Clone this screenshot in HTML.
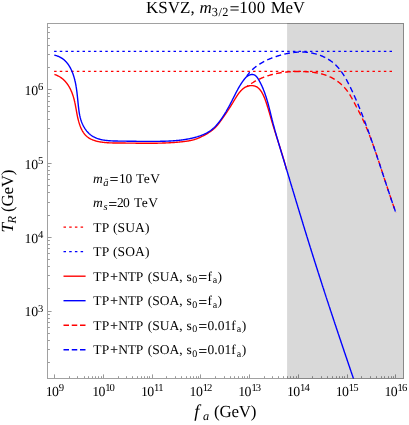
<!DOCTYPE html>
<html><head><meta charset="utf-8"><title>KSVZ plot</title>
<style>
html,body{margin:0;padding:0;background:#fff;}
svg{display:block;will-change:transform;}
text{font-family:"Liberation Serif",serif;fill:#000;white-space:pre;text-rendering:geometricPrecision;}
.eq{stroke:#000;stroke-width:0.2px;}
</style></head>
<body>
<svg width="409" height="425" viewBox="0 0 409 425">
<rect width="409" height="425" fill="#ffffff"/>
<rect x="287.1" y="23.0" width="116.90" height="356.0" fill="#d9d9d9"/>
<clipPath id="c"><rect x="47.5" y="23.5" width="356.0" height="355.0"/></clipPath>
<g clip-path="url(#c)" fill="none" stroke-linejoin="round">
<path d="M54.1,71.3 H394" stroke="#ff0000" stroke-width="1.22" stroke-dasharray="2.5 3.185"/>
<path d="M54.1,51.3 H394" stroke="#0000ff" stroke-width="1.22" stroke-dasharray="2.5 3.185"/>
<path d="M54.46,74.44 L54.97,74.60 L55.47,74.78 L55.96,74.96 L56.45,75.15 L56.92,75.35 L57.39,75.56 L57.85,75.78 L58.31,76.01 L58.76,76.25 L59.19,76.49 L59.63,76.75 L60.05,77.01 L60.47,77.28 L60.88,77.56 L61.29,77.84 L61.68,78.14 L62.07,78.44 L62.46,78.75 L62.83,79.06 L63.21,79.39 L63.57,79.72 L63.93,80.05 L64.28,80.40 L64.62,80.75 L64.96,81.10 L65.29,81.47 L65.62,81.84 L65.94,82.21 L66.25,82.59 L66.56,82.98 L66.86,83.37 L67.15,83.76 L67.44,84.16 L67.72,84.57 L68.00,84.98 L68.27,85.40 L68.54,85.82 L68.80,86.24 L69.06,86.67 L69.31,87.10 L69.55,87.54 L69.79,87.98 L70.02,88.43 L70.25,88.87 L70.47,89.32 L70.69,89.78 L70.90,90.24 L71.11,90.69 L71.32,91.16 L71.51,91.62 L71.71,92.09 L71.90,92.56 L72.08,93.03 L72.26,93.50 L72.43,93.98 L72.60,94.46 L72.77,94.94 L72.93,95.41 L73.09,95.90 L73.24,96.38 L73.39,96.86 L73.53,97.34 L73.67,97.83 L73.81,98.31 L73.94,98.80 L74.07,99.28 L74.20,99.77 L74.32,100.25 L74.43,100.74 L74.55,101.22 L74.66,101.71 L74.77,102.19 L74.87,102.68 L74.98,103.16 L75.08,103.65 L75.18,104.13 L75.27,104.62 L75.37,105.10 L75.46,105.59 L75.55,106.08 L75.64,106.56 L75.73,107.05 L75.82,107.53 L75.91,108.02 L75.99,108.51 L76.08,108.99 L76.17,109.48 L76.25,109.96 L76.34,110.45 L76.42,110.94 L76.51,111.42 L76.60,111.91 L76.69,112.40 L76.77,112.88 L76.86,113.37 L76.96,113.86 L77.05,114.35 L77.14,114.83 L77.24,115.32 L77.34,115.81 L77.44,116.30 L77.54,116.78 L77.64,117.27 L77.75,117.76 L77.86,118.25 L77.97,118.73 L78.09,119.22 L78.21,119.71 L78.33,120.20 L78.46,120.69 L78.59,121.18 L78.73,121.66 L78.87,122.15 L79.01,122.64 L79.16,123.13 L79.31,123.62 L79.47,124.11 L79.63,124.59 L79.80,125.08 L79.98,125.57 L80.15,126.05 L80.34,126.53 L80.53,127.01 L80.73,127.48 L80.93,127.95 L81.14,128.42 L81.35,128.88 L81.57,129.34 L81.80,129.80 L82.03,130.25 L82.28,130.69 L82.52,131.13 L82.78,131.56 L83.04,131.98 L83.31,132.40 L83.59,132.81 L83.88,133.21 L84.17,133.60 L84.47,133.99 L84.78,134.36 L85.10,134.73 L85.43,135.09 L85.76,135.43 L86.11,135.77 L86.46,136.10 L86.82,136.41 L87.19,136.72 L87.57,137.01 L87.95,137.30 L88.34,137.57 L88.74,137.84 L89.15,138.10 L89.56,138.35 L89.98,138.59 L90.41,138.82 L90.84,139.04 L91.28,139.25 L91.72,139.46 L92.17,139.66 L92.62,139.85 L93.08,140.03 L93.55,140.20 L94.02,140.37 L94.49,140.53 L94.97,140.68 L95.45,140.83 L95.93,140.97 L96.42,141.10 L96.91,141.23 L97.41,141.35 L97.90,141.46 L98.40,141.57 L98.91,141.67 L99.41,141.77 L99.92,141.86 L100.42,141.95 L100.93,142.03 L101.44,142.11 L101.95,142.18 L102.46,142.25 L102.98,142.32 L103.49,142.38 L104.00,142.43 L104.52,142.49 L105.03,142.54 L105.54,142.58 L106.05,142.62 L106.56,142.66 L107.07,142.70 L107.57,142.73 L108.08,142.76 L108.58,142.79 L109.09,142.82 L109.59,142.84 L110.09,142.86 L110.59,142.88 L111.09,142.90 L111.59,142.92 L112.08,142.93 L112.58,142.94 L113.07,142.95 L113.57,142.96 L114.06,142.97 L114.56,142.98 L115.05,142.98 L115.54,142.99 L116.03,142.99 L116.53,143.00 L117.02,143.00 L117.51,143.01 L118.00,143.01 L118.50,143.01 L118.99,143.01 L119.48,143.02 L119.97,143.02 L120.46,143.02 L120.96,143.02 L121.45,143.03 L121.94,143.03 L122.44,143.03 L122.93,143.04 L123.43,143.04 L123.92,143.05 L124.42,143.05 L124.91,143.06 L125.41,143.06 L125.90,143.07 L126.40,143.07 L126.89,143.08 L127.39,143.08 L127.89,143.09 L128.38,143.10 L128.88,143.10 L129.38,143.11 L129.88,143.11 L130.37,143.12 L130.87,143.13 L131.37,143.13 L131.87,143.14 L132.37,143.14 L132.86,143.15 L133.36,143.16 L133.86,143.16 L134.36,143.17 L134.86,143.17 L135.36,143.18 L135.86,143.19 L136.36,143.19 L136.86,143.20 L137.36,143.20 L137.86,143.21 L138.36,143.21 L138.86,143.22 L139.36,143.22 L139.86,143.23 L140.36,143.23 L140.86,143.24 L141.36,143.24 L141.86,143.24 L142.37,143.25 L142.87,143.25 L143.37,143.25 L143.87,143.26 L144.37,143.26 L144.87,143.26 L145.37,143.26 L145.88,143.27 L146.38,143.27 L146.88,143.27 L147.38,143.27 L147.88,143.27 L148.39,143.27 L148.89,143.27 L149.39,143.27 L149.89,143.27 L150.39,143.26 L150.90,143.26 L151.40,143.26 L151.90,143.26 L152.40,143.25 L152.91,143.25 L153.41,143.24 L153.91,143.24 L154.41,143.23 L154.91,143.23 L155.42,143.22 L155.92,143.21 L156.42,143.20 L156.92,143.20 L157.43,143.19 L157.93,143.18 L158.43,143.17 L158.93,143.16 L159.43,143.15 L159.93,143.13 L160.44,143.12 L160.94,143.11 L161.44,143.09 L161.94,143.08 L162.44,143.06 L162.94,143.05 L163.45,143.03 L163.95,143.01 L164.45,142.99 L164.95,142.97 L165.45,142.95 L165.95,142.93 L166.45,142.91 L166.95,142.89 L167.45,142.87 L167.95,142.84 L168.45,142.82 L168.95,142.79 L169.45,142.76 L169.95,142.74 L170.45,142.71 L170.95,142.68 L171.45,142.65 L171.95,142.62 L172.45,142.59 L172.95,142.55 L173.45,142.52 L173.94,142.48 L174.44,142.45 L174.94,142.41 L175.44,142.37 L175.94,142.33 L176.43,142.29 L176.93,142.25 L177.43,142.21 L177.92,142.17 L178.42,142.12 L178.92,142.08 L179.41,142.03 L179.91,141.98 L180.40,141.93 L180.90,141.88 L181.39,141.83 L181.89,141.78 L182.38,141.73 L182.88,141.67 L183.37,141.62 L183.87,141.56 L184.36,141.50 L184.85,141.44 L185.34,141.38 L185.84,141.31 L186.33,141.25 L186.82,141.18 L187.31,141.11 L187.80,141.03 L188.29,140.95 L188.78,140.87 L189.26,140.78 L189.75,140.69 L190.24,140.60 L190.72,140.50 L191.20,140.40 L191.68,140.29 L192.17,140.18 L192.65,140.06 L193.12,139.93 L193.60,139.80 L194.08,139.67 L194.55,139.53 L195.02,139.38 L195.50,139.22 L195.96,139.06 L196.43,138.89 L196.90,138.72 L197.36,138.53 L197.83,138.35 L198.29,138.16 L198.75,137.96 L199.21,137.76 L199.67,137.55 L200.13,137.34 L200.58,137.12 L201.04,136.90 L201.49,136.68 L201.94,136.46 L202.39,136.23 L202.84,136.00 L203.29,135.77 L203.74,135.53 L204.18,135.30 L204.63,135.06 L205.07,134.82 L205.51,134.57 L205.95,134.33 L206.39,134.08 L206.82,133.83 L207.25,133.57 L207.68,133.31 L208.11,133.05 L208.54,132.78 L208.96,132.51 L209.38,132.24 L209.80,131.96 L210.21,131.68 L210.62,131.40 L211.02,131.11 L211.43,130.81 L211.83,130.51 L212.22,130.21 L212.61,129.90 L213.00,129.58 L213.38,129.26 L213.76,128.94 L214.13,128.60 L214.50,128.27 L214.87,127.92 L215.23,127.58 L215.58,127.22 L215.93,126.86 L216.27,126.49 L216.61,126.12 L216.95,125.74 L217.28,125.36 L217.60,124.97 L217.93,124.58 L218.24,124.19 L218.56,123.79 L218.87,123.39 L219.18,122.99 L219.48,122.59 L219.78,122.18 L220.08,121.78 L220.38,121.37 L220.67,120.96 L220.96,120.55 L221.25,120.14 L221.54,119.74 L221.83,119.33 L222.11,118.93 L222.40,118.53 L222.68,118.12 L222.96,117.72 L223.24,117.32 L223.52,116.92 L223.80,116.52 L224.07,116.12 L224.35,115.73 L224.62,115.33 L224.89,114.93 L225.17,114.53 L225.44,114.14 L225.71,113.74 L225.98,113.34 L226.25,112.94 L226.52,112.54 L226.78,112.14 L227.05,111.74 L227.32,111.34 L227.58,110.94 L227.85,110.54 L228.11,110.13 L228.38,109.73 L228.64,109.32 L228.91,108.91 L229.17,108.50 L229.44,108.09 L229.70,107.68 L229.97,107.26 L230.23,106.85 L230.49,106.43 L230.76,106.01 L231.02,105.59 L231.29,105.16 L231.55,104.73 L231.82,104.30 L232.08,103.87 L232.35,103.43 L232.62,103.00 L232.88,102.55 L233.15,102.11 L233.42,101.66 L233.69,101.21 L233.96,100.76 L234.23,100.30 L234.51,99.85 L234.78,99.39 L235.06,98.94 L235.33,98.48 L235.61,98.03 L235.90,97.57 L236.18,97.12 L236.47,96.67 L236.76,96.22 L237.05,95.78 L237.35,95.33 L237.64,94.90 L237.95,94.46 L238.25,94.03 L238.56,93.61 L238.87,93.19 L239.19,92.78 L239.51,92.38 L239.84,91.98 L240.17,91.59 L240.50,91.21 L240.84,90.83 L241.19,90.47 L241.54,90.12 L241.89,89.77 L242.25,89.44 L242.62,89.11 L242.99,88.80 L243.37,88.50 L243.75,88.21 L244.14,87.93 L244.54,87.67 L244.94,87.42 L245.35,87.19 L245.77,86.97 L246.19,86.76 L246.62,86.57 L247.06,86.40 L247.51,86.24 L247.96,86.10 L248.42,85.98 L248.89,85.87 L249.37,85.78 L249.85,85.71 L250.33,85.66 L250.82,85.63 L251.30,85.61 L251.79,85.61 L252.27,85.64 L252.75,85.68 L253.23,85.74 L253.70,85.82 L254.17,85.92 L254.63,86.04 L255.08,86.18 L255.52,86.34 L255.95,86.52 L256.37,86.72 L256.77,86.94 L257.17,87.18 L257.55,87.44 L257.93,87.72 L258.29,88.01 L258.64,88.32 L258.99,88.64 L259.32,88.98 L259.65,89.33 L259.97,89.70 L260.28,90.08 L260.58,90.47 L260.87,90.87 L261.15,91.28 L261.43,91.71 L261.70,92.14 L261.96,92.59 L262.22,93.04 L262.47,93.50 L262.71,93.96 L262.95,94.43 L263.18,94.91 L263.40,95.39 L263.62,95.88 L263.84,96.37 L264.05,96.87 L264.25,97.36 L264.45,97.86 L264.65,98.36 L264.84,98.86 L265.03,99.36 L265.22,99.86 L265.40,100.36 L265.58,100.86 L265.76,101.35 L265.93,101.84 L266.10,102.33 L266.27,102.82 L266.44,103.31 L266.60,103.80 L266.77,104.28 L266.93,104.77 L267.08,105.25 L267.24,105.73 L267.39,106.21 L267.54,106.69 L267.69,107.17 L267.84,107.64 L267.99,108.12 L268.14,108.60 L268.28,109.07 L268.42,109.54 L268.56,110.02 L268.70,110.49 L268.84,110.96 L268.98,111.43 L269.12,111.90 L269.25,112.37 L269.39,112.84 L269.53,113.31 L269.66,113.78 L269.79,114.24 L269.93,114.71 L270.06,115.18 L270.20,115.65 L270.33,116.11 L270.46,116.58 L270.60,117.05 L270.73,117.52 L270.86,117.99 L271.00,118.45 L271.13,118.92 L271.27,119.39 L271.40,119.86 L271.54,120.33 L271.68,120.80 L271.82,121.27 L271.95,121.74 L272.09,122.21 L272.23,122.68 L272.38,123.15 L272.52,123.62 L272.66,124.09 L272.80,124.57 L272.94,125.04 L273.09,125.51 L273.23,125.99 L273.38,126.46 L273.52,126.93 L273.67,127.41 L273.81,127.88 L273.96,128.36 L274.11,128.83 L274.26,129.31 L274.40,129.79 L274.55,130.26 L274.70,130.74 L274.85,131.21 L275.00,131.69 L275.15,132.17 L275.30,132.64 L275.45,133.12 L275.60,133.60 L275.75,134.08 L275.91,134.56 L276.06,135.03 L276.21,135.51 L276.36,135.99 L276.51,136.47 L276.67,136.95 L276.82,137.43 L276.97,137.91 L277.12,138.39 L277.28,138.87 L277.43,139.35 L277.58,139.82 L277.74,140.30 L277.89,140.78 L278.04,141.26 L278.20,141.74 L278.35,142.22 L278.50,142.71 L278.66,143.19 L278.81,143.67 L278.96,144.15 L279.12,144.63 L279.27,145.11 L279.42,145.59 L279.57,146.07 L279.73,146.55 L279.88,147.03 L280.03,147.51 L280.18,147.99 L280.33,148.47 L280.48,148.95 L280.64,149.43 L280.79,149.91 L280.94,150.39 L281.09,150.87 L281.24,151.35 L281.39,151.83 L281.54,152.31 L281.68,152.80 L281.83,153.28 L281.98,153.76 L282.13,154.24 L282.28,154.71 L282.42,155.19 L282.57,155.67 L282.71,156.15 L282.86,156.63 L283.00,157.11 L283.15,157.59 L283.29,158.07 L283.43,158.55 L283.58,159.03 L283.72,159.51 L283.86,159.98 L284.00,160.46 L284.14,160.94 L284.28,161.42 L284.42,161.90 L284.56,162.37 L284.69,162.85 L284.83,163.33 L284.97,163.80 L285.10,164.28 L285.23,164.76 L285.37,165.23 L285.50,165.71 L285.63,166.18 L285.76,166.66 L285.89,167.13 L286.02,167.61 L286.15,168.08 L286.28,168.55 L286.40,169.03 L286.53,169.50 L286.65,169.97" stroke="#ff0000" stroke-width="1.38"/>
<path d="M54.33,55.18 L54.88,55.29 L55.43,55.42 L55.96,55.56 L56.48,55.71 L57.00,55.87 L57.50,56.05 L58.00,56.23 L58.49,56.43 L58.96,56.63 L59.43,56.85 L59.89,57.07 L60.34,57.30 L60.79,57.55 L61.22,57.80 L61.65,58.06 L62.07,58.34 L62.48,58.62 L62.88,58.91 L63.27,59.20 L63.66,59.51 L64.03,59.82 L64.40,60.14 L64.76,60.47 L65.12,60.81 L65.47,61.15 L65.81,61.50 L66.14,61.86 L66.47,62.22 L66.78,62.59 L67.10,62.97 L67.40,63.35 L67.70,63.74 L67.99,64.13 L68.28,64.53 L68.56,64.94 L68.83,65.35 L69.09,65.76 L69.35,66.18 L69.61,66.60 L69.86,67.03 L70.10,67.46 L70.34,67.90 L70.57,68.34 L70.79,68.78 L71.01,69.23 L71.23,69.68 L71.44,70.13 L71.64,70.58 L71.84,71.04 L72.03,71.50 L72.22,71.96 L72.41,72.43 L72.59,72.89 L72.77,73.36 L72.94,73.82 L73.10,74.29 L73.27,74.76 L73.43,75.24 L73.58,75.71 L73.73,76.18 L73.88,76.66 L74.02,77.14 L74.16,77.61 L74.29,78.09 L74.42,78.57 L74.55,79.06 L74.68,79.54 L74.80,80.02 L74.91,80.51 L75.03,80.99 L75.14,81.48 L75.25,81.96 L75.35,82.45 L75.45,82.94 L75.55,83.43 L75.65,83.92 L75.74,84.41 L75.84,84.91 L75.92,85.40 L76.01,85.89 L76.09,86.39 L76.18,86.88 L76.26,87.38 L76.33,87.87 L76.41,88.37 L76.48,88.87 L76.55,89.36 L76.62,89.86 L76.69,90.36 L76.76,90.86 L76.82,91.36 L76.88,91.86 L76.94,92.36 L77.01,92.86 L77.06,93.36 L77.12,93.86 L77.18,94.36 L77.23,94.86 L77.29,95.37 L77.34,95.87 L77.40,96.37 L77.45,96.87 L77.50,97.37 L77.55,97.87 L77.60,98.38 L77.65,98.88 L77.70,99.38 L77.75,99.88 L77.80,100.38 L77.85,100.88 L77.90,101.39 L77.95,101.89 L78.00,102.39 L78.05,102.89 L78.10,103.39 L78.15,103.89 L78.21,104.39 L78.26,104.89 L78.31,105.39 L78.36,105.88 L78.42,106.38 L78.47,106.88 L78.53,107.38 L78.59,107.87 L78.65,108.37 L78.71,108.86 L78.77,109.36 L78.83,109.85 L78.90,110.35 L78.96,110.84 L79.03,111.33 L79.10,111.82 L79.18,112.31 L79.26,112.80 L79.34,113.29 L79.42,113.78 L79.51,114.27 L79.61,114.76 L79.70,115.24 L79.80,115.73 L79.91,116.21 L80.02,116.69 L80.13,117.18 L80.25,117.66 L80.38,118.14 L80.51,118.62 L80.64,119.10 L80.78,119.57 L80.93,120.05 L81.09,120.52 L81.25,121.00 L81.41,121.47 L81.59,121.94 L81.77,122.42 L81.96,122.88 L82.15,123.35 L82.36,123.82 L82.57,124.29 L82.79,124.75 L83.01,125.21 L83.25,125.67 L83.49,126.12 L83.73,126.57 L83.99,127.02 L84.25,127.46 L84.51,127.90 L84.79,128.34 L85.07,128.77 L85.36,129.19 L85.65,129.61 L85.95,130.02 L86.26,130.43 L86.57,130.83 L86.89,131.22 L87.22,131.60 L87.55,131.98 L87.88,132.35 L88.23,132.71 L88.58,133.06 L88.93,133.41 L89.29,133.74 L89.66,134.06 L90.03,134.38 L90.40,134.68 L90.79,134.98 L91.17,135.26 L91.57,135.54 L91.96,135.81 L92.36,136.07 L92.77,136.32 L93.18,136.56 L93.60,136.79 L94.02,137.01 L94.45,137.23 L94.87,137.44 L95.31,137.64 L95.75,137.83 L96.19,138.02 L96.63,138.20 L97.08,138.37 L97.54,138.53 L97.99,138.69 L98.45,138.84 L98.92,138.98 L99.38,139.12 L99.85,139.25 L100.33,139.37 L100.80,139.49 L101.28,139.60 L101.76,139.71 L102.25,139.81 L102.73,139.91 L103.22,140.00 L103.72,140.08 L104.21,140.16 L104.71,140.24 L105.20,140.31 L105.71,140.38 L106.21,140.44 L106.71,140.50 L107.22,140.56 L107.73,140.61 L108.23,140.66 L108.74,140.70 L109.26,140.74 L109.77,140.78 L110.28,140.81 L110.80,140.84 L111.31,140.87 L111.83,140.90 L112.35,140.92 L112.87,140.94 L113.38,140.96 L113.90,140.98 L114.42,141.00 L114.94,141.01 L115.46,141.02 L115.98,141.04 L116.50,141.05 L117.02,141.06 L117.54,141.06 L118.06,141.07 L118.57,141.08 L119.09,141.09 L119.61,141.09 L120.12,141.10 L120.64,141.11 L121.15,141.11 L121.67,141.12 L122.18,141.13 L122.69,141.13 L123.20,141.14 L123.71,141.15 L124.22,141.15 L124.73,141.16 L125.23,141.17 L125.74,141.17 L126.25,141.18 L126.75,141.19 L127.26,141.20 L127.76,141.20 L128.26,141.21 L128.77,141.22 L129.27,141.22 L129.77,141.23 L130.27,141.24 L130.77,141.24 L131.27,141.25 L131.77,141.26 L132.27,141.27 L132.77,141.27 L133.26,141.28 L133.76,141.28 L134.26,141.29 L134.75,141.30 L135.25,141.30 L135.75,141.31 L136.24,141.31 L136.74,141.32 L137.23,141.33 L137.72,141.33 L138.22,141.34 L138.71,141.34 L139.20,141.35 L139.70,141.35 L140.19,141.36 L140.68,141.36 L141.17,141.37 L141.67,141.37 L142.16,141.37 L142.65,141.38 L143.14,141.38 L143.63,141.38 L144.12,141.39 L144.61,141.39 L145.10,141.39 L145.60,141.39 L146.09,141.40 L146.58,141.40 L147.07,141.40 L147.56,141.40 L148.05,141.40 L148.54,141.40 L149.03,141.40 L149.52,141.40 L150.01,141.40 L150.50,141.40 L150.99,141.40 L151.49,141.40 L151.98,141.40 L152.47,141.39 L152.96,141.39 L153.45,141.39 L153.94,141.39 L154.44,141.38 L154.93,141.38 L155.42,141.37 L155.91,141.37 L156.41,141.36 L156.90,141.36 L157.40,141.35 L157.89,141.35 L158.38,141.34 L158.88,141.33 L159.37,141.33 L159.87,141.32 L160.37,141.31 L160.86,141.30 L161.36,141.29 L161.86,141.28 L162.35,141.27 L162.85,141.26 L163.35,141.25 L163.85,141.23 L164.35,141.22 L164.85,141.20 L165.35,141.19 L165.84,141.17 L166.34,141.15 L166.84,141.14 L167.34,141.12 L167.84,141.10 L168.34,141.08 L168.84,141.05 L169.34,141.03 L169.84,141.00 L170.35,140.98 L170.85,140.95 L171.35,140.92 L171.85,140.89 L172.35,140.86 L172.85,140.83 L173.35,140.79 L173.85,140.76 L174.35,140.72 L174.85,140.68 L175.35,140.64 L175.85,140.60 L176.36,140.56 L176.86,140.51 L177.36,140.47 L177.86,140.42 L178.36,140.37 L178.86,140.32 L179.36,140.26 L179.86,140.21 L180.36,140.15 L180.86,140.09 L181.36,140.03 L181.86,139.96 L182.36,139.90 L182.85,139.83 L183.35,139.76 L183.85,139.69 L184.35,139.61 L184.85,139.54 L185.35,139.46 L185.84,139.38 L186.34,139.30 L186.84,139.21 L187.33,139.12 L187.83,139.03 L188.32,138.94 L188.82,138.84 L189.31,138.75 L189.81,138.64 L190.30,138.54 L190.79,138.44 L191.29,138.33 L191.78,138.22 L192.27,138.10 L192.76,137.98 L193.25,137.87 L193.75,137.74 L194.24,137.62 L194.72,137.49 L195.21,137.36 L195.70,137.22 L196.19,137.09 L196.68,136.95 L197.16,136.80 L197.65,136.66 L198.13,136.50 L198.61,136.35 L199.10,136.19 L199.57,136.03 L200.05,135.87 L200.53,135.70 L201.00,135.52 L201.48,135.35 L201.95,135.16 L202.41,134.98 L202.88,134.79 L203.34,134.59 L203.80,134.39 L204.26,134.19 L204.71,133.98 L205.16,133.77 L205.61,133.55 L206.06,133.32 L206.50,133.09 L206.94,132.86 L207.37,132.62 L207.80,132.37 L208.22,132.12 L208.65,131.86 L209.06,131.60 L209.48,131.33 L209.88,131.06 L210.29,130.77 L210.69,130.49 L211.08,130.19 L211.47,129.90 L211.86,129.59 L212.24,129.28 L212.61,128.97 L212.99,128.64 L213.35,128.32 L213.72,127.99 L214.08,127.65 L214.43,127.31 L214.79,126.97 L215.13,126.62 L215.48,126.26 L215.82,125.90 L216.16,125.54 L216.49,125.17 L216.82,124.80 L217.15,124.43 L217.48,124.05 L217.80,123.67 L218.11,123.29 L218.43,122.90 L218.74,122.51 L219.05,122.12 L219.36,121.72 L219.66,121.32 L219.96,120.92 L220.26,120.52 L220.56,120.11 L220.85,119.71 L221.14,119.30 L221.43,118.89 L221.72,118.47 L222.00,118.06 L222.28,117.64 L222.56,117.22 L222.84,116.81 L223.12,116.38 L223.39,115.96 L223.66,115.54 L223.93,115.11 L224.20,114.69 L224.47,114.26 L224.73,113.83 L225.00,113.40 L225.26,112.97 L225.52,112.54 L225.78,112.11 L226.03,111.67 L226.29,111.24 L226.54,110.80 L226.79,110.37 L227.04,109.93 L227.29,109.49 L227.54,109.05 L227.79,108.61 L228.03,108.17 L228.27,107.73 L228.52,107.29 L228.76,106.85 L229.00,106.41 L229.23,105.96 L229.47,105.52 L229.71,105.08 L229.94,104.63 L230.18,104.19 L230.41,103.75 L230.64,103.30 L230.87,102.86 L231.10,102.41 L231.33,101.97 L231.56,101.52 L231.79,101.08 L232.01,100.63 L232.24,100.19 L232.46,99.74 L232.69,99.30 L232.91,98.86 L233.14,98.41 L233.36,97.97 L233.58,97.53 L233.80,97.08 L234.03,96.64 L234.25,96.20 L234.47,95.76 L234.69,95.32 L234.91,94.88 L235.13,94.44 L235.36,94.00 L235.58,93.56 L235.80,93.12 L236.03,92.68 L236.26,92.24 L236.48,91.81 L236.71,91.37 L236.94,90.94 L237.17,90.50 L237.41,90.07 L237.64,89.63 L237.88,89.20 L238.12,88.77 L238.36,88.34 L238.60,87.90 L238.85,87.47 L239.10,87.04 L239.35,86.62 L239.61,86.19 L239.86,85.76 L240.12,85.33 L240.39,84.91 L240.65,84.48 L240.92,84.06 L241.20,83.64 L241.48,83.21 L241.76,82.79 L242.04,82.37 L242.33,81.95 L242.63,81.53 L242.92,81.12 L243.23,80.70 L243.53,80.28 L243.85,79.87 L244.16,79.46 L244.49,79.05 L244.82,78.64 L245.15,78.24 L245.50,77.84 L245.86,77.46 L246.23,77.09 L246.62,76.74 L247.02,76.40 L247.44,76.09 L247.88,75.79 L248.34,75.52 L248.81,75.28 L249.30,75.06 L249.80,74.87 L250.31,74.72 L250.82,74.60 L251.32,74.51 L251.81,74.46 L252.29,74.45 L252.75,74.49 L253.20,74.56 L253.62,74.67 L254.04,74.81 L254.43,74.99 L254.81,75.20 L255.18,75.44 L255.54,75.71 L255.88,76.00 L256.21,76.32 L256.53,76.66 L256.84,77.02 L257.14,77.40 L257.44,77.79 L257.72,78.20 L258.00,78.61 L258.27,79.04 L258.53,79.48 L258.79,79.92 L259.04,80.37 L259.29,80.82 L259.53,81.26 L259.78,81.71 L260.01,82.17 L260.25,82.62 L260.48,83.07 L260.71,83.53 L260.93,83.98 L261.16,84.44 L261.37,84.89 L261.59,85.35 L261.80,85.81 L262.01,86.27 L262.22,86.73 L262.42,87.19 L262.62,87.65 L262.82,88.12 L263.01,88.58 L263.21,89.05 L263.40,89.51 L263.58,89.98 L263.77,90.44 L263.95,90.91 L264.13,91.38 L264.30,91.85 L264.48,92.32 L264.65,92.79 L264.82,93.26 L264.99,93.73 L265.15,94.20 L265.32,94.68 L265.48,95.15 L265.64,95.62 L265.79,96.10 L265.95,96.57 L266.10,97.05 L266.25,97.53 L266.40,98.00 L266.55,98.48 L266.70,98.96 L266.84,99.43 L266.98,99.91 L267.13,100.39 L267.27,100.87 L267.41,101.35 L267.54,101.83 L267.68,102.31 L267.81,102.79 L267.95,103.27 L268.08,103.76 L268.21,104.24 L268.34,104.72 L268.47,105.20 L268.60,105.69 L268.72,106.17 L268.85,106.65 L268.98,107.14 L269.10,107.62 L269.23,108.10 L269.35,108.59 L269.47,109.07 L269.59,109.56 L269.72,110.04 L269.84,110.53 L269.96,111.01 L270.08,111.50 L270.20,111.98 L270.32,112.47 L270.44,112.95 L270.56,113.44 L270.68,113.92 L270.80,114.41 L270.92,114.90 L271.04,115.38 L271.16,115.87 L271.28,116.35 L271.40,116.84 L271.52,117.32 L271.64,117.81 L271.76,118.29 L271.88,118.78 L272.00,119.26 L272.12,119.75 L272.25,120.23 L272.37,120.72 L272.49,121.20 L272.62,121.69 L272.74,122.17 L272.87,122.65 L272.99,123.14 L273.12,123.62 L273.25,124.10 L273.38,124.59 L273.50,125.07 L273.63,125.55 L273.76,126.04 L273.89,126.52 L274.02,127.00 L274.15,127.48 L274.28,127.97 L274.41,128.45 L274.55,128.93 L274.68,129.41 L274.81,129.89 L274.94,130.38 L275.08,130.86 L275.21,131.34 L275.35,131.82 L275.48,132.30 L275.62,132.78 L275.75,133.26 L275.89,133.75 L276.03,134.23 L276.16,134.71 L276.30,135.19 L276.44,135.67 L276.58,136.15 L276.71,136.63 L276.85,137.11 L276.99,137.59 L277.13,138.07 L277.27,138.55 L277.41,139.03 L277.55,139.51 L277.69,139.99 L277.83,140.47 L277.97,140.95 L278.11,141.43 L278.25,141.91 L278.40,142.39 L278.54,142.87 L278.68,143.35 L278.82,143.83 L278.96,144.30 L279.11,144.78 L279.25,145.26 L279.39,145.74 L279.54,146.22 L279.68,146.70 L279.82,147.18 L279.97,147.66 L280.11,148.14 L280.25,148.62 L280.40,149.09 L280.54,149.57 L280.69,150.05 L280.83,150.53 L280.98,151.01 L281.12,151.49 L281.27,151.97 L281.41,152.44 L281.56,152.92 L281.70,153.40 L281.85,153.88 L281.99,154.36 L282.14,154.84 L282.28,155.31 L282.43,155.79 L282.57,156.27 L282.72,156.75 L282.87,157.23 L283.01,157.71 L283.16,158.18 L283.30,158.66 L283.45,159.14 L283.59,159.62 L283.74,160.10 L283.88,160.58 L284.03,161.06 L284.17,161.53 L284.32,162.01 L284.46,162.49 L284.61,162.97 L284.75,163.45 L284.90,163.93 L285.04,164.40 L285.19,164.88 L285.33,165.36 L285.48,165.84 L285.62,166.32 L285.77,166.80 L285.91,167.28 L286.06,167.75 L286.20,168.23 L286.35,168.71 L286.49,169.19 L286.64,169.67 L286.78,170.15 L286.93,170.63 L287.07,171.10 L287.22,171.58 L287.36,172.06 L287.51,172.54 L287.65,173.02 L287.80,173.50 L287.94,173.98 L288.08,174.45 L288.23,174.93 L288.37,175.41 L288.52,175.89 L288.66,176.37 L288.81,176.85 L288.95,177.33 L289.10,177.80 L289.24,178.28 L289.38,178.76 L289.53,179.24 L289.67,179.72 L289.82,180.20 L289.96,180.68 L290.11,181.15 L290.25,181.63 L290.39,182.11 L290.54,182.59 L290.68,183.07 L290.83,183.55 L290.97,184.03 L291.12,184.50 L291.26,184.98 L291.41,185.46 L291.55,185.94 L291.69,186.42 L291.84,186.90 L291.98,187.38 L292.13,187.85 L292.27,188.33 L292.41,188.81 L292.56,189.29 L292.70,189.77 L292.85,190.25 L292.99,190.73 L293.14,191.20 L293.28,191.68 L293.42,192.16 L293.57,192.64 L293.71,193.12 L293.86,193.60 L294.00,194.08 L294.15,194.56 L294.29,195.03 L294.43,195.51 L294.58,195.99 L294.72,196.47 L294.87,196.95 L295.01,197.43 L295.16,197.90 L295.30,198.38 L295.45,198.86 L295.59,199.34 L295.73,199.82 L295.88,200.30 L296.02,200.78 L296.17,201.25 L296.31,201.73 L296.46,202.21 L296.60,202.69 L296.75,203.17 L296.89,203.65 L297.04,204.13 L297.18,204.60 L297.32,205.08 L297.47,205.56 L297.61,206.04 L297.76,206.52 L297.90,207.00 L298.05,207.47 L298.19,207.95 L298.34,208.43 L298.48,208.91 L298.63,209.39 L298.77,209.87 L298.92,210.34 L299.06,210.82 L299.21,211.30 L299.35,211.78 L299.50,212.26 L299.64,212.74 L299.79,213.21 L299.93,213.69 L300.08,214.17 L300.22,214.65 L300.37,215.13 L300.51,215.61 L300.66,216.08 L300.80,216.56 L300.95,217.04 L301.10,217.52 L301.24,218.00 L301.39,218.48 L301.53,218.95 L301.68,219.43 L301.82,219.91 L301.97,220.39 L302.11,220.87 L302.26,221.34 L302.41,221.82 L302.55,222.30 L302.70,222.78 L302.84,223.26 L302.99,223.73 L303.14,224.21 L303.28,224.69 L303.43,225.17 L303.57,225.65 L303.72,226.12 L303.87,226.60 L304.01,227.08 L304.16,227.56 L304.31,228.04 L304.45,228.51 L304.60,228.99 L304.75,229.47 L304.89,229.95 L305.04,230.42 L305.19,230.90 L305.33,231.38 L305.48,231.86 L305.63,232.34 L305.77,232.81 L305.92,233.29 L306.07,233.77 L306.22,234.25 L306.36,234.72 L306.51,235.20 L306.66,235.68 L306.80,236.16 L306.95,236.63 L307.10,237.11 L307.25,237.59 L307.39,238.07 L307.54,238.54 L307.69,239.02 L307.84,239.50 L307.99,239.98 L308.13,240.45 L308.28,240.93 L308.43,241.41 L308.58,241.89 L308.73,242.36 L308.88,242.84 L309.02,243.32 L309.17,243.80 L309.32,244.27 L309.47,244.75 L309.62,245.23 L309.77,245.70 L309.92,246.18 L310.07,246.66 L310.21,247.14 L310.36,247.61 L310.51,248.09 L310.66,248.57 L310.81,249.04 L310.96,249.52 L311.11,250.00 L311.26,250.48 L311.41,250.95 L311.56,251.43 L311.71,251.91 L311.86,252.38 L312.01,252.86 L312.16,253.34 L312.31,253.81 L312.46,254.29 L312.61,254.77 L312.76,255.24 L312.91,255.72 L313.06,256.20 L313.21,256.67 L313.36,257.15 L313.51,257.63 L313.66,258.10 L313.81,258.58 L313.96,259.06 L314.11,259.53 L314.26,260.01 L314.41,260.49 L314.56,260.96 L314.71,261.44 L314.87,261.92 L315.02,262.39 L315.17,262.87 L315.32,263.35 L315.47,263.82 L315.62,264.30 L315.77,264.78 L315.92,265.25 L316.08,265.73 L316.23,266.20 L316.38,266.68 L316.53,267.16 L316.68,267.63 L316.83,268.11 L316.99,268.59 L317.14,269.06 L317.29,269.54 L317.44,270.01 L317.59,270.49 L317.75,270.97 L317.90,271.44 L318.05,271.92 L318.20,272.40 L318.36,272.87 L318.51,273.35 L318.66,273.82 L318.81,274.30 L318.97,274.78 L319.12,275.25 L319.27,275.73 L319.42,276.20 L319.58,276.68 L319.73,277.16 L319.88,277.63 L320.04,278.11 L320.19,278.58 L320.34,279.06 L320.49,279.53 L320.65,280.01 L320.80,280.49 L320.95,280.96 L321.11,281.44 L321.26,281.91 L321.41,282.39 L321.57,282.87 L321.72,283.34 L321.88,283.82 L322.03,284.29 L322.18,284.77 L322.34,285.24 L322.49,285.72 L322.65,286.19 L322.80,286.67 L322.95,287.15 L323.11,287.62 L323.26,288.10 L323.42,288.57 L323.57,289.05 L323.72,289.52 L323.88,290.00 L324.03,290.47 L324.19,290.95 L324.34,291.43 L324.50,291.90 L324.65,292.38 L324.81,292.85 L324.96,293.33 L325.12,293.80 L325.27,294.28 L325.43,294.75 L325.58,295.23 L325.74,295.70 L325.89,296.18 L326.05,296.65 L326.20,297.13 L326.36,297.60 L326.51,298.08 L326.67,298.55 L326.82,299.03 L326.98,299.50 L327.13,299.98 L327.29,300.45 L327.44,300.93 L327.60,301.40 L327.75,301.88 L327.91,302.36 L328.07,302.83 L328.22,303.31 L328.38,303.78 L328.53,304.26 L328.69,304.73 L328.85,305.20 L329.00,305.68 L329.16,306.15 L329.31,306.63 L329.47,307.10 L329.63,307.58 L329.78,308.05 L329.94,308.53 L330.09,309.00 L330.25,309.48 L330.41,309.95 L330.56,310.43 L330.72,310.90 L330.88,311.38 L331.03,311.85 L331.19,312.33 L331.35,312.80 L331.50,313.28 L331.66,313.75 L331.82,314.23 L331.97,314.70 L332.13,315.18 L332.29,315.65 L332.45,316.12 L332.60,316.60 L332.76,317.07 L332.92,317.55 L333.07,318.02 L333.23,318.50 L333.39,318.97 L333.55,319.45 L333.70,319.92 L333.86,320.40 L334.02,320.87 L334.18,321.34 L334.33,321.82 L334.49,322.29 L334.65,322.77 L334.81,323.24 L334.96,323.72 L335.12,324.19 L335.28,324.67 L335.44,325.14 L335.59,325.61 L335.75,326.09 L335.91,326.56 L336.07,327.04 L336.23,327.51 L336.38,327.99 L336.54,328.46 L336.70,328.93 L336.86,329.41 L337.02,329.88 L337.18,330.36 L337.33,330.83 L337.49,331.30 L337.65,331.78 L337.81,332.25 L337.97,332.73 L338.13,333.20 L338.28,333.68 L338.44,334.15 L338.60,334.62 L338.76,335.10 L338.92,335.57 L339.08,336.05 L339.24,336.52 L339.39,336.99 L339.55,337.47 L339.71,337.94 L339.87,338.42 L340.03,338.89 L340.19,339.36 L340.35,339.84 L340.51,340.31 L340.67,340.79 L340.83,341.26 L340.98,341.73 L341.14,342.21 L341.30,342.68 L341.46,343.15 L341.62,343.63 L341.78,344.10 L341.94,344.58 L342.10,345.05 L342.26,345.52 L342.42,346.00 L342.58,346.47 L342.74,346.94 L342.90,347.42 L343.06,347.89 L343.22,348.37 L343.38,348.84 L343.53,349.31 L343.69,349.79 L343.85,350.26 L344.01,350.73 L344.17,351.21 L344.33,351.68 L344.49,352.16 L344.65,352.63 L344.81,353.10 L344.97,353.58 L345.13,354.05 L345.29,354.52 L345.45,355.00 L345.61,355.47 L345.77,355.94 L345.93,356.42 L346.09,356.89 L346.25,357.36 L346.41,357.84 L346.57,358.31 L346.73,358.78 L346.90,359.26 L347.06,359.73 L347.22,360.20 L347.38,360.68 L347.54,361.15 L347.70,361.62 L347.86,362.10 L348.02,362.57 L348.18,363.05 L348.34,363.52 L348.50,363.99 L348.66,364.47 L348.82,364.94 L348.98,365.41 L349.14,365.88 L349.30,366.36 L349.46,366.83 L349.62,367.30 L349.79,367.78 L349.95,368.25 L350.11,368.72 L350.27,369.20 L350.43,369.67 L350.59,370.14 L350.75,370.62 L350.91,371.09 L351.07,371.56 L351.23,372.04 L351.40,372.51 L351.56,372.98 L351.72,373.46 L351.88,373.93 L352.04,374.40 L352.20,374.88 L352.36,375.35 L352.52,375.82 L352.68,376.29 L352.85,376.77 L353.01,377.24 L353.17,377.71 L353.33,378.19 L353.49,378.66 L353.65,379.13 L353.81,379.61 L353.98,380.08 L354.14,380.55 L354.30,381.03 L354.46,381.50 L354.62,381.97 L354.78,382.44 L354.94,382.92 L355.11,383.39 L355.27,383.86 L355.43,384.34 L355.59,384.81 L355.75,385.28 L355.91,385.75 L356.08,386.23 L356.24,386.70 L356.40,387.17 L356.56,387.65 L356.72,388.12 L356.88,388.59 L357.05,389.06 L357.21,389.54 L357.37,390.01" stroke="#0000ff" stroke-width="1.38"/>
<path d="M246.75,86.80 L247.16,86.48 L247.57,86.17 L247.98,85.87 L248.39,85.56 L248.81,85.26 L249.22,84.97 L249.64,84.68 L250.06,84.39 L250.48,84.10 L250.90,83.82 L251.33,83.55 L251.75,83.27 L252.18,83.00 L252.61,82.74 L253.04,82.48 L253.47,82.22 L253.90,81.96 L254.33,81.71 L254.77,81.46 L255.20,81.22 L255.64,80.98 L256.08,80.74 L256.52,80.51 L256.97,80.28 L257.41,80.05 L257.85,79.83 L258.30,79.61 L258.75,79.39 L259.20,79.18 L259.65,78.97 L260.10,78.76 L260.55,78.56 L261.00,78.36 L261.46,78.16 L261.91,77.97 L262.37,77.78 L262.83,77.59 L263.29,77.41 L263.75,77.23 L264.21,77.05 L264.67,76.88 L265.14,76.71 L265.60,76.54 L266.07,76.38 L266.54,76.22 L267.00,76.06 L267.47,75.90 L267.94,75.75 L268.41,75.60 L268.89,75.46 L269.36,75.31 L269.83,75.17 L270.31,75.04 L270.79,74.90 L271.26,74.77 L271.74,74.64 L272.22,74.52 L272.70,74.39 L273.18,74.27 L273.66,74.16 L274.14,74.04 L274.62,73.93 L275.11,73.82 L275.59,73.72 L276.08,73.61 L276.56,73.51 L277.05,73.41 L277.54,73.32 L278.03,73.23 L278.52,73.14 L279.01,73.05 L279.50,72.97 L279.99,72.88 L280.48,72.80 L280.97,72.73 L281.46,72.65 L281.96,72.58 L282.45,72.51 L282.95,72.44 L283.44,72.38 L283.94,72.32 L284.43,72.26 L284.93,72.20 L285.43,72.15 L285.92,72.09 L286.42,72.04 L286.92,72.00 L287.42,71.95 L287.92,71.91 L288.42,71.87 L288.92,71.83 L289.42,71.79 L289.92,71.76 L290.42,71.72 L290.93,71.69 L291.43,71.67 L291.93,71.64 L292.43,71.62 L292.94,71.60 L293.44,71.58 L293.94,71.56 L294.45,71.54 L294.95,71.53 L295.46,71.52 L295.96,71.51 L296.47,71.50 L296.97,71.50 L297.48,71.50 L297.98,71.49 L298.49,71.49 L298.99,71.50 L299.50,71.50 L300.01,71.51 L300.51,71.51 L301.02,71.52 L301.52,71.54 L302.03,71.55 L302.54,71.56 L303.04,71.58 L303.55,71.60 L304.06,71.62 L304.56,71.64 L305.07,71.66 L305.57,71.69 L306.08,71.72 L306.59,71.75 L307.09,71.78 L307.60,71.81 L308.10,71.85 L308.61,71.89 L309.11,71.93 L309.61,71.97 L310.12,72.02 L310.62,72.06 L311.12,72.12 L311.62,72.17 L312.12,72.22 L312.62,72.28 L313.12,72.35 L313.62,72.41 L314.12,72.48 L314.62,72.55 L315.11,72.62 L315.61,72.70 L316.10,72.78 L316.59,72.86 L317.09,72.95 L317.58,73.04 L318.07,73.13 L318.56,73.23 L319.04,73.33 L319.53,73.44 L320.01,73.54 L320.50,73.66 L320.98,73.77 L321.46,73.89 L321.94,74.02 L322.42,74.14 L322.89,74.28 L323.37,74.41 L323.84,74.55 L324.31,74.70 L324.78,74.85 L325.25,75.00 L325.72,75.16 L326.18,75.32 L326.65,75.49 L327.11,75.66 L327.57,75.84 L328.02,76.02 L328.48,76.21 L328.93,76.40 L329.38,76.60 L329.83,76.80 L330.28,77.01 L330.72,77.22 L331.17,77.44 L331.61,77.66 L332.04,77.89 L332.48,78.12 L332.91,78.36 L333.34,78.60 L333.77,78.85 L334.19,79.10 L334.62,79.36 L335.04,79.62 L335.45,79.89 L335.87,80.16 L336.28,80.44 L336.69,80.72 L337.09,81.00 L337.49,81.29 L337.89,81.59 L338.29,81.88 L338.68,82.19 L339.07,82.50 L339.46,82.81 L339.84,83.12 L340.22,83.44 L340.60,83.77 L340.97,84.10 L341.34,84.43 L341.71,84.77 L342.07,85.11 L342.43,85.45 L342.79,85.80 L343.14,86.15 L343.49,86.51 L343.83,86.87 L344.17,87.23 L344.51,87.60 L344.84,87.97 L345.17,88.35 L345.49,88.73 L345.81,89.11 L346.13,89.50 L346.44,89.89 L346.74,90.28 L347.05,90.68 L347.34,91.08 L347.64,91.48 L347.93,91.89 L348.22,92.29 L348.50,92.71 L348.78,93.12 L349.05,93.54 L349.32,93.96 L349.59,94.38 L349.86,94.81 L350.12,95.23 L350.38,95.66 L350.64,96.09 L350.89,96.53 L351.15,96.96 L351.40,97.40 L351.64,97.84 L351.89,98.28 L352.13,98.72 L352.38,99.16 L352.62,99.60 L352.86,100.04 L353.10,100.49 L353.33,100.93 L353.57,101.38 L353.81,101.82 L354.04,102.27 L354.28,102.72 L354.51,103.16 L354.75,103.61 L354.98,104.05 L355.21,104.50 L355.45,104.95 L355.68,105.39 L355.92,105.84 L356.15,106.28 L356.38,106.73 L356.62,107.17 L356.85,107.62 L357.08,108.06 L357.32,108.50 L357.55,108.95 L357.78,109.39 L358.01,109.84 L358.24,110.28 L358.47,110.73 L358.70,111.17 L358.93,111.62 L359.16,112.06 L359.39,112.51 L359.62,112.95 L359.84,113.40 L360.07,113.84 L360.30,114.29 L360.52,114.74 L360.74,115.18 L360.97,115.63 L361.19,116.08 L361.41,116.53 L361.63,116.97 L361.85,117.42 L362.06,117.87 L362.28,118.32 L362.49,118.77 L362.71,119.22 L362.92,119.67 L363.13,120.12 L363.34,120.58 L363.55,121.03 L363.76,121.48 L363.97,121.94 L364.17,122.39 L364.38,122.84 L364.58,123.30 L364.78,123.75 L364.98,124.21 L365.18,124.67 L365.38,125.12 L365.58,125.58 L365.78,126.04 L365.97,126.50 L366.17,126.96 L366.36,127.41 L366.56,127.87 L366.75,128.33 L366.94,128.79 L367.13,129.25 L367.32,129.72 L367.51,130.18 L367.69,130.64 L367.88,131.10 L368.07,131.56 L368.25,132.03 L368.44,132.49 L368.62,132.95 L368.80,133.42 L368.99,133.88 L369.17,134.35 L369.35,134.81 L369.53,135.28 L369.71,135.74 L369.88,136.21 L370.06,136.67 L370.24,137.14 L370.42,137.61 L370.59,138.07 L370.77,138.54 L370.94,139.01 L371.11,139.47 L371.29,139.94 L371.46,140.41 L371.63,140.88 L371.80,141.35 L371.98,141.82 L372.15,142.29 L372.32,142.75 L372.49,143.22 L372.65,143.69 L372.82,144.16 L372.99,144.63 L373.16,145.10 L373.33,145.57 L373.49,146.05 L373.66,146.52 L373.83,146.99 L373.99,147.46 L374.16,147.93 L374.32,148.40 L374.49,148.87 L374.65,149.34 L374.81,149.82 L374.98,150.29 L375.14,150.76 L375.31,151.23 L375.47,151.70 L375.63,152.18 L375.79,152.65 L375.95,153.12 L376.12,153.59 L376.28,154.07 L376.44,154.54 L376.60,155.01 L376.76,155.49 L376.92,155.96 L377.08,156.43 L377.24,156.91 L377.40,157.38 L377.56,157.85 L377.72,158.33 L377.88,158.80 L378.04,159.27 L378.20,159.75 L378.35,160.22 L378.51,160.70 L378.67,161.17 L378.83,161.65 L378.99,162.12 L379.14,162.59 L379.30,163.07 L379.46,163.54 L379.61,164.02 L379.77,164.49 L379.93,164.97 L380.08,165.44 L380.24,165.92 L380.40,166.39 L380.55,166.87 L380.71,167.34 L380.86,167.82 L381.02,168.29 L381.18,168.77 L381.33,169.24 L381.49,169.72 L381.64,170.19 L381.80,170.67 L381.95,171.14 L382.11,171.62 L382.26,172.10 L382.42,172.57 L382.57,173.05 L382.73,173.52 L382.88,174.00 L383.04,174.47 L383.19,174.95 L383.35,175.42 L383.50,175.90 L383.66,176.38 L383.81,176.85 L383.97,177.33 L384.12,177.80 L384.27,178.28 L384.43,178.75 L384.58,179.23 L384.74,179.71 L384.89,180.18 L385.05,180.66 L385.20,181.13 L385.36,181.61 L385.51,182.08 L385.67,182.56 L385.82,183.03 L385.98,183.51 L386.13,183.98 L386.29,184.46 L386.44,184.94 L386.60,185.41 L386.75,185.89 L386.91,186.36 L387.06,186.84 L387.22,187.31 L387.38,187.79 L387.53,188.26 L387.69,188.74 L387.84,189.21 L388.00,189.69 L388.16,190.16 L388.31,190.64 L388.47,191.11 L388.63,191.59 L388.78,192.06 L388.94,192.53 L389.10,193.01 L389.26,193.48 L389.41,193.96 L389.57,194.43 L389.73,194.91 L389.89,195.38 L390.05,195.85 L390.21,196.33 L390.37,196.80 L390.52,197.28 L390.68,197.75 L390.84,198.22 L391.00,198.70 L391.16,199.17 L391.32,199.64 L391.48,200.12 L391.65,200.59 L391.81,201.06 L391.97,201.53 L392.13,202.01 L392.29,202.48 L392.45,202.95 L392.62,203.42 L392.78,203.90 L392.94,204.37 L393.11,204.84 L393.27,205.31 L393.43,205.78 L393.60,206.26 L393.76,206.73 L393.93,207.20 L394.09,207.67 L394.26,208.14 L394.42,208.61 L394.59,209.08 L394.76,209.55 L394.93,210.02 L395.09,210.49 L395.26,210.96 L395.43,211.43 L395.60,211.90 L395.77,212.37" stroke="#ff0000" stroke-width="1.38" stroke-dasharray="5.7 3.35" stroke-dashoffset="3.7"/>
<path d="M246.85,75.88 L247.16,75.46 L247.47,75.05 L247.78,74.65 L248.10,74.24 L248.43,73.85 L248.75,73.45 L249.08,73.07 L249.42,72.69 L249.75,72.31 L250.09,71.94 L250.44,71.57 L250.78,71.21 L251.13,70.85 L251.49,70.50 L251.84,70.15 L252.20,69.80 L252.57,69.46 L252.93,69.13 L253.30,68.80 L253.67,68.47 L254.05,68.15 L254.42,67.83 L254.80,67.52 L255.19,67.21 L255.57,66.90 L255.96,66.60 L256.35,66.31 L256.75,66.01 L257.15,65.73 L257.54,65.44 L257.95,65.16 L258.35,64.88 L258.76,64.61 L259.17,64.34 L259.58,64.08 L260.00,63.81 L260.41,63.56 L260.83,63.30 L261.25,63.05 L261.68,62.80 L262.10,62.56 L262.53,62.32 L262.96,62.08 L263.39,61.85 L263.83,61.62 L264.27,61.39 L264.70,61.16 L265.14,60.94 L265.59,60.73 L266.03,60.51 L266.48,60.30 L266.93,60.09 L267.38,59.89 L267.83,59.68 L268.28,59.48 L268.74,59.29 L269.19,59.09 L269.65,58.90 L270.11,58.71 L270.57,58.53 L271.04,58.34 L271.50,58.16 L271.97,57.98 L272.44,57.81 L272.90,57.63 L273.37,57.46 L273.85,57.29 L274.32,57.13 L274.79,56.96 L275.27,56.80 L275.74,56.64 L276.22,56.48 L276.70,56.33 L277.18,56.18 L277.66,56.02 L278.14,55.87 L278.62,55.73 L279.11,55.58 L279.59,55.44 L280.08,55.30 L280.56,55.16 L281.05,55.02 L281.54,54.89 L282.03,54.76 L282.52,54.63 L283.01,54.50 L283.50,54.38 L283.99,54.26 L284.48,54.14 L284.97,54.02 L285.47,53.91 L285.96,53.80 L286.46,53.69 L286.95,53.59 L287.45,53.48 L287.94,53.38 L288.44,53.29 L288.94,53.20 L289.44,53.11 L289.93,53.02 L290.43,52.94 L290.93,52.86 L291.43,52.78 L291.93,52.71 L292.43,52.64 L292.93,52.57 L293.43,52.51 L293.93,52.45 L294.43,52.39 L294.93,52.34 L295.44,52.29 L295.94,52.25 L296.44,52.21 L296.94,52.17 L297.44,52.14 L297.94,52.11 L298.45,52.08 L298.95,52.06 L299.45,52.05 L299.95,52.03 L300.45,52.02 L300.96,52.02 L301.46,52.02 L301.96,52.02 L302.46,52.03 L302.96,52.05 L303.46,52.06 L303.96,52.09 L304.46,52.11 L304.96,52.14 L305.46,52.18 L305.96,52.22 L306.46,52.26 L306.96,52.31 L307.45,52.36 L307.95,52.42 L308.45,52.48 L308.94,52.55 L309.43,52.62 L309.93,52.70 L310.42,52.77 L310.91,52.86 L311.40,52.95 L311.89,53.04 L312.38,53.14 L312.86,53.24 L313.35,53.34 L313.83,53.46 L314.32,53.57 L314.80,53.69 L315.28,53.81 L315.76,53.94 L316.24,54.07 L316.71,54.21 L317.19,54.35 L317.66,54.50 L318.13,54.65 L318.60,54.80 L319.06,54.96 L319.53,55.13 L319.99,55.30 L320.45,55.47 L320.91,55.65 L321.37,55.83 L321.83,56.01 L322.28,56.20 L322.73,56.40 L323.18,56.60 L323.62,56.80 L324.07,57.01 L324.51,57.22 L324.95,57.44 L325.38,57.66 L325.82,57.89 L326.25,58.12 L326.68,58.36 L327.10,58.60 L327.53,58.84 L327.95,59.09 L328.37,59.34 L328.78,59.60 L329.19,59.86 L329.60,60.13 L330.01,60.40 L330.41,60.68 L330.81,60.96 L331.21,61.24 L331.60,61.53 L331.99,61.82 L332.38,62.12 L332.76,62.42 L333.14,62.73 L333.51,63.04 L333.89,63.36 L334.26,63.68 L334.62,64.00 L334.98,64.33 L335.34,64.67 L335.70,65.01 L336.05,65.35 L336.39,65.70 L336.74,66.05 L337.08,66.41 L337.41,66.77 L337.74,67.13 L338.07,67.50 L338.40,67.87 L338.72,68.25 L339.04,68.63 L339.35,69.01 L339.67,69.40 L339.97,69.79 L340.28,70.18 L340.58,70.58 L340.88,70.98 L341.18,71.38 L341.47,71.79 L341.76,72.20 L342.05,72.61 L342.33,73.02 L342.62,73.44 L342.90,73.86 L343.17,74.28 L343.45,74.71 L343.72,75.14 L343.99,75.57 L344.26,76.00 L344.52,76.43 L344.78,76.87 L345.04,77.30 L345.30,77.74 L345.56,78.18 L345.81,78.63 L346.06,79.07 L346.31,79.51 L346.56,79.96 L346.80,80.41 L347.05,80.86 L347.29,81.31 L347.53,81.76 L347.77,82.21 L348.01,82.66 L348.24,83.12 L348.47,83.57 L348.71,84.03 L348.94,84.48 L349.17,84.94 L349.40,85.39 L349.62,85.85 L349.85,86.31 L350.07,86.76 L350.30,87.22 L350.52,87.67 L350.74,88.13 L350.96,88.59 L351.18,89.04 L351.40,89.50 L351.61,89.95 L351.83,90.41 L352.05,90.87 L352.26,91.32 L352.47,91.78 L352.68,92.23 L352.90,92.69 L353.11,93.15 L353.31,93.60 L353.52,94.06 L353.73,94.52 L353.94,94.97 L354.14,95.43 L354.35,95.89 L354.55,96.34 L354.75,96.80 L354.96,97.26 L355.16,97.72 L355.36,98.17 L355.56,98.63 L355.76,99.09 L355.96,99.55 L356.16,100.00 L356.35,100.46 L356.55,100.92 L356.75,101.38 L356.94,101.84 L357.14,102.30 L357.33,102.75 L357.53,103.21 L357.72,103.67 L357.91,104.13 L358.11,104.59 L358.30,105.05 L358.49,105.51 L358.68,105.97 L358.87,106.43 L359.06,106.89 L359.25,107.35 L359.44,107.81 L359.62,108.27 L359.81,108.73 L360.00,109.20 L360.18,109.66 L360.37,110.12 L360.56,110.58 L360.74,111.04 L360.93,111.50 L361.11,111.97 L361.29,112.43 L361.48,112.89 L361.66,113.35 L361.84,113.81 L362.02,114.28 L362.20,114.74 L362.39,115.20 L362.57,115.67 L362.75,116.13 L362.92,116.59 L363.10,117.06 L363.28,117.52 L363.46,117.99 L363.64,118.45 L363.82,118.91 L363.99,119.38 L364.17,119.84 L364.35,120.31 L364.52,120.77 L364.70,121.24 L364.87,121.70 L365.05,122.17 L365.22,122.63 L365.39,123.10 L365.57,123.57 L365.74,124.03 L365.91,124.50 L366.09,124.96 L366.26,125.43 L366.43,125.90 L366.60,126.36 L366.77,126.83 L366.94,127.30 L367.11,127.77 L367.28,128.23 L367.45,128.70 L367.62,129.17 L367.79,129.64 L367.96,130.10 L368.13,130.57 L368.30,131.04 L368.47,131.51 L368.63,131.98 L368.80,132.44 L368.97,132.91 L369.13,133.38 L369.30,133.85 L369.47,134.32 L369.63,134.79 L369.80,135.26 L369.96,135.73 L370.13,136.20 L370.30,136.67 L370.46,137.14 L370.62,137.61 L370.79,138.08 L370.95,138.55 L371.12,139.02 L371.28,139.49 L371.44,139.96 L371.61,140.43 L371.77,140.90 L371.93,141.37 L372.10,141.84 L372.26,142.31 L372.42,142.78 L372.58,143.26 L372.75,143.73 L372.91,144.20 L373.07,144.67 L373.23,145.14 L373.39,145.62 L373.55,146.09 L373.71,146.56 L373.87,147.03 L374.03,147.50 L374.20,147.98 L374.36,148.45 L374.52,148.92 L374.68,149.39 L374.84,149.87 L375.00,150.34 L375.15,150.81 L375.31,151.29 L375.47,151.76 L375.63,152.23 L375.79,152.71 L375.95,153.18 L376.11,153.65 L376.27,154.13 L376.43,154.60 L376.58,155.08 L376.74,155.55 L376.90,156.02 L377.06,156.50 L377.22,156.97 L377.37,157.45 L377.53,157.92 L377.69,158.39 L377.85,158.87 L378.01,159.34 L378.16,159.82 L378.32,160.29 L378.48,160.77 L378.63,161.24 L378.79,161.72 L378.95,162.19 L379.11,162.66 L379.26,163.14 L379.42,163.61 L379.58,164.09 L379.73,164.56 L379.89,165.04 L380.05,165.51 L380.20,165.99 L380.36,166.46 L380.52,166.94 L380.67,167.41 L380.83,167.89 L380.98,168.36 L381.14,168.84 L381.30,169.31 L381.45,169.79 L381.61,170.26 L381.77,170.74 L381.92,171.21 L382.08,171.69 L382.23,172.16 L382.39,172.64 L382.55,173.11 L382.70,173.59 L382.86,174.06 L383.01,174.54 L383.17,175.01 L383.33,175.49 L383.48,175.96 L383.64,176.44 L383.79,176.91 L383.95,177.39 L384.11,177.86 L384.26,178.34 L384.42,178.81 L384.58,179.29 L384.73,179.76 L384.89,180.24 L385.04,180.71 L385.20,181.19 L385.36,181.66 L385.51,182.14 L385.67,182.61 L385.83,183.09 L385.98,183.56 L386.14,184.04 L386.30,184.51 L386.45,184.99 L386.61,185.46 L386.77,185.93 L386.92,186.41 L387.08,186.88 L387.24,187.36 L387.40,187.83 L387.55,188.31 L387.71,188.78 L387.87,189.25 L388.03,189.73 L388.18,190.20 L388.34,190.67 L388.50,191.15 L388.66,191.62 L388.81,192.10 L388.97,192.57 L389.13,193.04 L389.29,193.52 L389.45,193.99 L389.61,194.46 L389.77,194.94 L389.92,195.41 L390.08,195.88 L390.24,196.35 L390.40,196.83 L390.56,197.30 L390.72,197.77 L390.88,198.24 L391.04,198.72 L391.20,199.19 L391.36,199.66 L391.52,200.13 L391.68,200.60 L391.84,201.08 L392.00,201.55 L392.16,202.02 L392.32,202.49 L392.49,202.96 L392.65,203.43 L392.81,203.90 L392.97,204.38 L393.13,204.85 L393.29,205.32 L393.46,205.79 L393.62,206.26 L393.78,206.73 L393.95,207.20 L394.11,207.67 L394.27,208.14 L394.44,208.61 L394.60,209.08 L394.76,209.55 L394.93,210.02 L395.09,210.49 L395.26,210.95 L395.42,211.42 L395.59,211.89 L395.75,212.36" stroke="#0000ff" stroke-width="1.38" stroke-dasharray="5.7 3.35" stroke-dashoffset="1"/>
</g>
<path d="M54.50,378.0 v-3.6 M69.50,378.0 v-1.8 M77.50,378.0 v-1.8 M84.50,378.0 v-1.8 M88.50,378.0 v-1.8 M92.50,378.0 v-1.8 M95.50,378.0 v-1.8 M98.50,378.0 v-1.8 M101.50,378.0 v-1.8 M103.50,378.0 v-3.6 M118.50,378.0 v-1.8 M126.50,378.0 v-1.8 M132.50,378.0 v-1.8 M137.50,378.0 v-1.8 M141.50,378.0 v-1.8 M144.50,378.0 v-1.8 M147.50,378.0 v-1.8 M149.50,378.0 v-1.8 M152.50,378.0 v-3.6 M166.50,378.0 v-1.8 M175.50,378.0 v-1.8 M181.50,378.0 v-1.8 M186.50,378.0 v-1.8 M190.50,378.0 v-1.8 M193.50,378.0 v-1.8 M196.50,378.0 v-1.8 M198.50,378.0 v-1.8 M200.50,378.0 v-3.6 M215.50,378.0 v-1.8 M224.50,378.0 v-1.8 M230.50,378.0 v-1.8 M234.50,378.0 v-1.8 M238.50,378.0 v-1.8 M242.50,378.0 v-1.8 M244.50,378.0 v-1.8 M247.50,378.0 v-1.8 M249.50,378.0 v-3.6 M264.50,378.0 v-1.8 M272.50,378.0 v-1.8 M278.50,378.0 v-1.8 M283.50,378.0 v-1.8 M287.50,378.0 v-1.8 M290.50,378.0 v-1.8 M293.50,378.0 v-1.8 M296.50,378.0 v-1.8 M298.50,378.0 v-3.6 M312.50,378.0 v-1.8 M321.50,378.0 v-1.8 M327.50,378.0 v-1.8 M332.50,378.0 v-1.8 M336.50,378.0 v-1.8 M339.50,378.0 v-1.8 M342.50,378.0 v-1.8 M344.50,378.0 v-1.8 M347.50,378.0 v-3.6 M361.50,378.0 v-1.8 M370.50,378.0 v-1.8 M376.50,378.0 v-1.8 M381.50,378.0 v-1.8 M384.50,378.0 v-1.8 M388.50,378.0 v-1.8 M391.50,378.0 v-1.8 M393.50,378.0 v-1.8 M395.50,378.0 v-3.6 M48.0,362.50 h1.9 M48.0,349.50 h1.9 M48.0,340.50 h1.9 M48.0,333.50 h1.9 M48.0,327.50 h1.9 M48.0,322.50 h1.9 M48.0,318.50 h1.9 M48.0,314.50 h1.9 M48.0,311.50 h3.6 M48.0,288.50 h1.9 M48.0,275.50 h1.9 M48.0,266.50 h1.9 M48.0,259.50 h1.9 M48.0,253.50 h1.9 M48.0,248.50 h1.9 M48.0,244.50 h1.9 M48.0,240.50 h1.9 M48.0,237.50 h3.6 M48.0,215.50 h1.9 M48.0,202.50 h1.9 M48.0,192.50 h1.9 M48.0,185.50 h1.9 M48.0,179.50 h1.9 M48.0,174.50 h1.9 M48.0,170.50 h1.9 M48.0,166.50 h1.9 M48.0,163.50 h3.6 M48.0,141.50 h1.9 M48.0,128.50 h1.9 M48.0,119.50 h1.9 M48.0,111.50 h1.9 M48.0,106.50 h1.9 M48.0,101.50 h1.9 M48.0,96.50 h1.9 M48.0,93.50 h1.9 M48.0,89.50 h3.6 M48.0,67.50 h1.9 M48.0,54.50 h1.9 M48.0,45.50 h1.9 M48.0,38.50 h1.9 M48.0,32.50 h1.9 M48.0,27.50 h1.9" stroke="#000" stroke-opacity="0.56" stroke-width="0.72" fill="none"/>
<rect x="47.5" y="23.5" width="356.0" height="355.0" fill="none" stroke="#000" stroke-opacity="0.37" stroke-width="1"/>
<text x="45.70" y="395.90" font-size="13.8" textLength="13.20" lengthAdjust="spacing" >10</text>
<text x="58.70" y="391.20" font-size="10.7" >9</text>
<text x="92.17" y="395.90" font-size="13.8" textLength="13.20" lengthAdjust="spacing" >10</text>
<text x="105.22" y="391.20" font-size="10.7" textLength="9.70" lengthAdjust="spacing" >10</text>
<text x="140.89" y="395.90" font-size="13.8" textLength="13.20" lengthAdjust="spacing" >10</text>
<text x="153.94" y="391.20" font-size="10.7" textLength="9.70" lengthAdjust="spacing" >11</text>
<text x="189.61" y="395.90" font-size="13.8" textLength="13.20" lengthAdjust="spacing" >10</text>
<text x="202.66" y="391.20" font-size="10.7" textLength="9.70" lengthAdjust="spacing" >12</text>
<text x="238.33" y="395.90" font-size="13.8" textLength="13.20" lengthAdjust="spacing" >10</text>
<text x="251.38" y="391.20" font-size="10.7" textLength="9.70" lengthAdjust="spacing" >13</text>
<text x="287.05" y="395.90" font-size="13.8" textLength="13.20" lengthAdjust="spacing" >10</text>
<text x="300.10" y="391.20" font-size="10.7" textLength="9.70" lengthAdjust="spacing" >14</text>
<text x="335.77" y="395.90" font-size="13.8" textLength="13.20" lengthAdjust="spacing" >10</text>
<text x="348.82" y="391.20" font-size="10.7" textLength="9.70" lengthAdjust="spacing" >15</text>
<text x="384.49" y="395.90" font-size="13.8" textLength="13.20" lengthAdjust="spacing" >10</text>
<text x="397.54" y="391.20" font-size="10.7" textLength="9.70" lengthAdjust="spacing" >16</text>
<text x="24.60" y="316.49" font-size="13.8" textLength="13.60" lengthAdjust="spacing" >10</text>
<text x="38.10" y="311.59" font-size="10.7" >3</text>
<text x="24.60" y="242.66" font-size="13.8" textLength="13.60" lengthAdjust="spacing" >10</text>
<text x="38.10" y="237.76" font-size="10.7" >4</text>
<text x="24.60" y="168.83" font-size="13.8" textLength="13.60" lengthAdjust="spacing" >10</text>
<text x="38.10" y="163.93" font-size="10.7" >5</text>
<text x="24.60" y="95.00" font-size="13.8" textLength="13.60" lengthAdjust="spacing" >10</text>
<text x="38.10" y="90.10" font-size="10.7" >6</text>
<text x="146.10" y="13.00" font-size="17.0" >KSVZ,</text>
<text x="199.40" y="13.00" font-size="17.0" font-style="italic" >m</text>
<text x="211.80" y="15.90" font-size="12.3" textLength="16.60" lengthAdjust="spacing" >3/2</text>
<text x="229.80" y="13.80" font-size="17.0" class="eq">=</text>
<text x="239.30" y="13.00" font-size="17.0" textLength="26.00" lengthAdjust="spacing" >100</text>
<text x="270.80" y="13.00" font-size="17.0" textLength="34.20" lengthAdjust="spacing" >MeV</text>
<text x="194.30" y="417.30" font-size="18" font-style="italic" >f</text>
<text x="202.90" y="420.20" font-size="12.3" font-style="italic" >a</text>
<text x="214.00" y="417.20" font-size="17.0" textLength="42.40" lengthAdjust="spacing" >(GeV)</text>
<g transform="translate(13.4,232.6) rotate(-90)"><text x="0.00" y="0.00" font-size="17.0" font-style="italic" >T</text><text x="9.00" y="2.80" font-size="12.3" font-style="italic" >R</text><text x="20.60" y="0.00" font-size="17.0" textLength="42.40" lengthAdjust="spacing" >(GeV)</text></g>
<text x="93.10" y="182.50" font-size="13.5" font-style="italic" textLength="9.80" lengthAdjust="spacing" >m</text>
<text x="103.20" y="185.60" font-size="10.6" font-style="italic" >a</text>
<path d="M105.2,179.60 q0.7,-0.8 1.4,-0.3 t1.4,-0.3" stroke="#000" stroke-width="0.65" fill="none"/>
<text x="109.70" y="184.10" font-size="15" class="eq">=</text>
<text x="119.10" y="182.50" font-size="13.5" textLength="13.10" lengthAdjust="spacing" >10</text>
<text x="136.10" y="182.50" font-size="13.5" textLength="23.90" lengthAdjust="spacing" >TeV</text>
<text x="93.10" y="207.00" font-size="13.5" font-style="italic" textLength="9.80" lengthAdjust="spacing" >m</text>
<text x="103.40" y="209.80" font-size="10.6" font-style="italic" >s</text>
<text x="108.40" y="208.60" font-size="15" class="eq">=</text>
<text x="117.00" y="207.00" font-size="13.5" textLength="12.70" lengthAdjust="spacing" >20</text>
<text x="134.10" y="207.00" font-size="13.5" textLength="23.90" lengthAdjust="spacing" >TeV</text>
<text x="93.20" y="231.50" font-size="13.5" textLength="16.00" lengthAdjust="spacing" >TP</text>
<text x="112.90" y="231.50" font-size="13.5" textLength="36.60" lengthAdjust="spacing" >(SUA)</text>
<text x="93.20" y="256.00" font-size="13.5" textLength="16.00" lengthAdjust="spacing" >TP</text>
<text x="112.90" y="256.00" font-size="13.5" textLength="36.60" lengthAdjust="spacing" >(SOA)</text>
<text x="93.20" y="280.50" font-size="13.5" textLength="16.00" lengthAdjust="spacing" >TP</text>
<text x="110.20" y="280.80" font-size="13.5" class="eq">+</text>
<text x="118.20" y="280.50" font-size="13.5" textLength="25.00" lengthAdjust="spacing" >NTP</text>
<text x="147.70" y="280.50" font-size="13.5" textLength="34.90" lengthAdjust="spacing" >(SUA,</text>
<text x="186.60" y="280.50" font-size="13.5" >s</text>
<text x="192.30" y="283.00" font-size="10.0" >0</text>
<text x="198.60" y="282.10" font-size="15" class="eq">=</text>
<text x="207.50" y="280.50" font-size="13.5" >f</text>
<text x="212.70" y="283.00" font-size="10.0" >a</text>
<text x="217.50" y="280.50" font-size="13.5" >)</text>
<text x="93.20" y="305.00" font-size="13.5" textLength="16.00" lengthAdjust="spacing" >TP</text>
<text x="110.20" y="305.30" font-size="13.5" class="eq">+</text>
<text x="118.20" y="305.00" font-size="13.5" textLength="25.00" lengthAdjust="spacing" >NTP</text>
<text x="147.70" y="305.00" font-size="13.5" textLength="34.90" lengthAdjust="spacing" >(SOA,</text>
<text x="186.60" y="305.00" font-size="13.5" >s</text>
<text x="192.30" y="307.50" font-size="10.0" >0</text>
<text x="198.60" y="306.60" font-size="15" class="eq">=</text>
<text x="207.50" y="305.00" font-size="13.5" >f</text>
<text x="212.70" y="307.50" font-size="10.0" >a</text>
<text x="217.50" y="305.00" font-size="13.5" >)</text>
<text x="93.20" y="329.50" font-size="13.5" textLength="16.00" lengthAdjust="spacing" >TP</text>
<text x="110.20" y="329.80" font-size="13.5" class="eq">+</text>
<text x="118.20" y="329.50" font-size="13.5" textLength="25.00" lengthAdjust="spacing" >NTP</text>
<text x="147.70" y="329.50" font-size="13.5" textLength="34.90" lengthAdjust="spacing" >(SUA,</text>
<text x="186.60" y="329.50" font-size="13.5" >s</text>
<text x="192.30" y="332.00" font-size="10.0" >0</text>
<text x="198.60" y="331.10" font-size="15" class="eq">=</text>
<text x="207.50" y="329.50" font-size="13.5" textLength="28.30" lengthAdjust="spacing" >0.01f</text>
<text x="236.70" y="332.00" font-size="10.0" >a</text>
<text x="241.70" y="329.50" font-size="13.5" >)</text>
<text x="93.20" y="354.00" font-size="13.5" textLength="16.00" lengthAdjust="spacing" >TP</text>
<text x="110.20" y="354.30" font-size="13.5" class="eq">+</text>
<text x="118.20" y="354.00" font-size="13.5" textLength="25.00" lengthAdjust="spacing" >NTP</text>
<text x="147.70" y="354.00" font-size="13.5" textLength="34.90" lengthAdjust="spacing" >(SOA,</text>
<text x="186.60" y="354.00" font-size="13.5" >s</text>
<text x="192.30" y="356.50" font-size="10.0" >0</text>
<text x="198.60" y="355.60" font-size="15" class="eq">=</text>
<text x="207.50" y="354.00" font-size="13.5" textLength="28.30" lengthAdjust="spacing" >0.01f</text>
<text x="236.70" y="356.50" font-size="10.0" >a</text>
<text x="241.70" y="354.00" font-size="13.5" >)</text>
<path d="M63.5,227.20 H85.6" stroke="#ff0000" stroke-width="1.22" fill="none" stroke-dasharray="2.5 3.2"/>
<path d="M63.5,251.70 H85.6" stroke="#0000ff" stroke-width="1.22" fill="none" stroke-dasharray="2.5 3.2"/>
<path d="M63.5,276.20 H85.6" stroke="#ff0000" stroke-width="1.38" fill="none"/>
<path d="M63.5,300.70 H85.6" stroke="#0000ff" stroke-width="1.38" fill="none"/>
<path d="M63.5,325.20 H85.6" stroke="#ff0000" stroke-width="1.38" fill="none" stroke-dasharray="5.5 2.75"/>
<path d="M63.5,349.70 H85.6" stroke="#0000ff" stroke-width="1.38" fill="none" stroke-dasharray="5.5 2.75"/>
</svg>
</body></html>
